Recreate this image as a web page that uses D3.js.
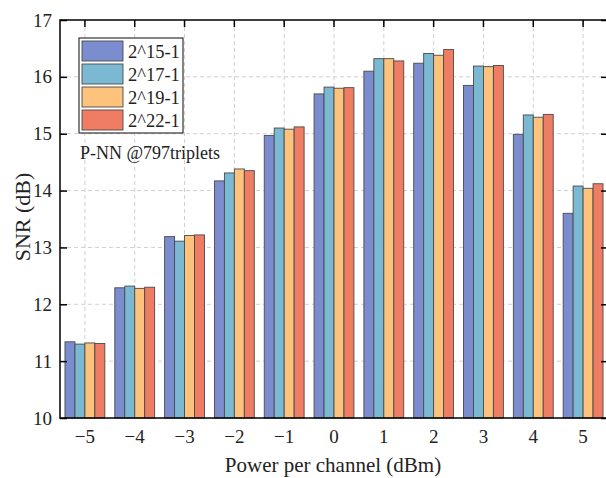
<!DOCTYPE html>
<html><head><meta charset="utf-8">
<script src="https://cdn.jsdelivr.net/npm/d3@7"></script>
<style>body{margin:0;background:#fff}svg{display:block}
svg text{font-family:"Liberation Serif","Times New Roman",Times,serif !important;}</style>
</head><body>
<svg id="c" width="606" height="478"></svg>
<script>
const categories = ["\u22125","\u22124","\u22123","\u22122","\u22121","0","1","2","3","4","5"];
const seriesNames = ["2^15-1","2^17-1","2^19-1","2^22-1"];
const s15 = [11.34,12.29,13.19,14.17,14.97,15.70,16.10,16.24,15.85,14.99,13.60];
const s17 = [11.30,12.32,13.11,14.31,15.10,15.82,16.32,16.41,16.19,15.33,14.08];
const s19 = [11.32,12.28,13.21,14.38,15.08,15.80,16.32,16.38,16.18,15.29,14.04];
const s22 = [11.31,12.30,13.22,14.35,15.12,15.81,16.28,16.48,16.20,15.34,14.12];
const yTicks = [10,11,12,13,14,15,16,17];
const colors = ["#7b8dcf","#7bb9d3","#fdc27b","#ef7d63"];
const series = [s15,s17,s19,s22];

const svg = d3.select("#c");
const L=60, R=608, T=20, B=418;
const x = d3.scaleBand().domain(categories).range([L,R]).paddingInner(0.2).paddingOuter(0.1);
const xs = d3.scaleBand().domain(seriesNames).range([0,x.bandwidth()]);
const y = d3.scaleLinear().domain([10,17]).range([B,T]);

// grid
svg.append("g").selectAll("line").data(yTicks.slice(1,-1)).join("line")
  .attr("x1",L).attr("x2",R).attr("y1",d=>y(d)).attr("y2",d=>y(d))
  .attr("stroke","#d0d0d0").attr("stroke-dasharray","4,3").attr("stroke-width",1);
svg.append("g").selectAll("line").data(categories).join("line")
  .attr("x1",d=>x(d)+x.bandwidth()/2).attr("x2",d=>x(d)+x.bandwidth()/2).attr("y1",T).attr("y2",B)
  .attr("stroke","#d0d0d0").attr("stroke-dasharray","4,3").attr("stroke-width",1);

// bars
series.forEach((s,i)=>{
  svg.append("g").selectAll("rect").data(s).join("rect")
    .attr("x",(d,j)=>x(categories[j])+xs(seriesNames[i]))
    .attr("y",d=>y(d)).attr("width",xs.bandwidth()).attr("height",d=>B-y(d))
    .attr("fill",colors[i]).attr("stroke","#4a4a4a").attr("stroke-width",0.9);
});

// frame
svg.append("rect").attr("x",L).attr("y",T).attr("width",R-L).attr("height",B-T)
  .attr("fill","none").attr("stroke","#000").attr("stroke-width",1.5);

// axes
const yAx = svg.append("g").attr("transform",`translate(${L},0)`)
  .call(d3.axisLeft(y).tickValues(yTicks).tickFormat(d3.format("d")).tickSizeInner(-7).tickSizeOuter(0).tickPadding(8));
yAx.select(".domain").remove();
const yAxR = svg.append("g").attr("transform",`translate(${R},0)`)
  .call(d3.axisRight(y).tickValues(yTicks).tickFormat("").tickSizeInner(-7).tickSizeOuter(0));
yAxR.select(".domain").remove();
const xAx = svg.append("g").attr("transform",`translate(0,${B})`)
  .call(d3.axisBottom(x).tickSizeInner(0).tickSizeOuter(0).tickPadding(12));
xAx.select(".domain").remove();
const xAxT = svg.append("g").attr("transform",`translate(0,${T})`)
  .call(d3.axisTop(x).tickFormat("").tickSizeInner(-7).tickSizeOuter(0));
xAxT.select(".domain").remove();
svg.selectAll("g").attr("font-family",null);
svg.selectAll(".tick line").attr("stroke","#000").attr("stroke-width",1.5);
svg.selectAll(".tick text").attr("font-size",19).attr("fill","#222");

// titles
svg.append("text").attr("x",(L+R)/2-1).attr("y",472).attr("text-anchor","middle")
  .attr("font-size",21).attr("fill","#222").text("Power per channel (dBm)");
svg.append("text").attr("transform","translate(30,217) rotate(-90)").attr("text-anchor","middle")
  .attr("font-size",22).attr("fill","#222").text("SNR (dB)");

// legend
const lg = svg.append("g");
lg.append("rect").attr("x",79).attr("y",38).attr("width",104).attr("height",95)
  .attr("fill","#fff").attr("stroke","#333").attr("stroke-width",1.2);
seriesNames.forEach((n,i)=>{
  lg.append("rect").attr("x",82).attr("y",41+i*23).attr("width",41).attr("height",20)
    .attr("fill",colors[i]).attr("stroke","#4a4a4a").attr("stroke-width",0.9);
  lg.append("text").attr("x",128).attr("y",57.5+i*23).attr("font-size",18.5)
    .attr("fill","#222").text(n);
});
svg.append("text").attr("x",80).attr("y",159).attr("font-size",18)
  .attr("fill","#222").text("P-NN @797triplets");
</script>
</body></html>
